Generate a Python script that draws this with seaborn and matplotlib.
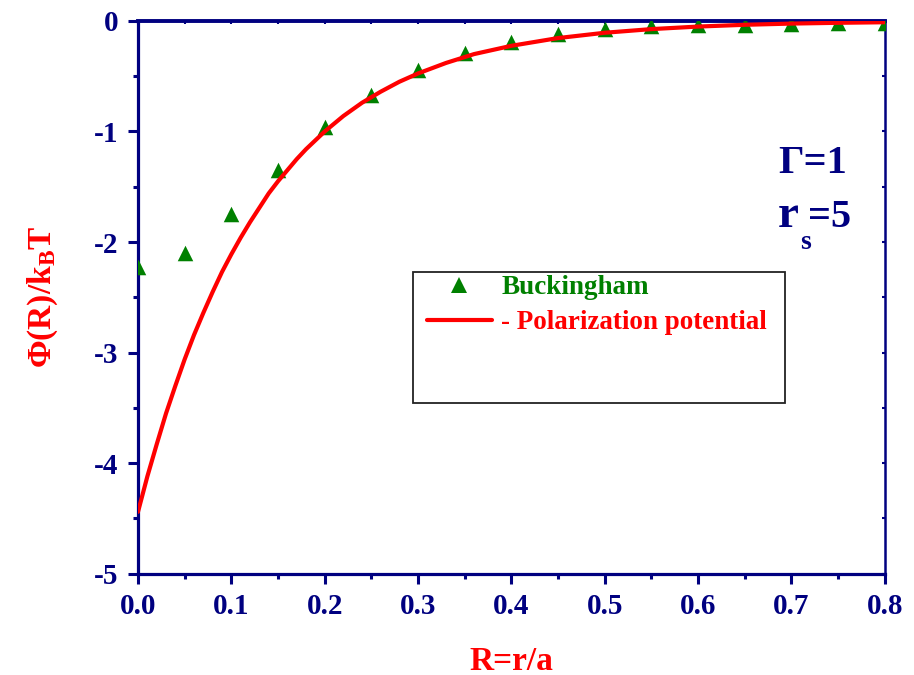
import matplotlib
matplotlib.use("Agg")
import matplotlib.pyplot as plt
import pandas as pd
import seaborn as sns
from matplotlib.ticker import MultipleLocator, NullFormatter
from matplotlib.lines import Line2D
from matplotlib.patches import Rectangle

# Buckingham potential, sampled every 0.05 in R
buck_R = [0.00, 0.05, 0.10, 0.15, 0.20, 0.25, 0.30, 0.35, 0.40,
          0.45, 0.50, 0.55, 0.60, 0.65, 0.70, 0.75, 0.80]
buck_phi = [-2.23, -2.10, -1.75, -1.35, -0.96, -0.67, -0.44, -0.29, -0.19,
            -0.12, -0.075, -0.05, -0.04, -0.035, -0.03, -0.02, -0.02]

# Polarization potential curve
pol_R = [0.00, 0.01, 0.02, 0.03, 0.04, 0.05, 0.06, 0.07, 0.08, 0.09, 0.10,
         0.11, 0.12, 0.13, 0.14, 0.15, 0.16, 0.17, 0.18, 0.19, 0.20,
         0.22, 0.24, 0.26, 0.28, 0.30,
         0.33, 0.36, 0.40, 0.45, 0.50, 0.55, 0.60, 0.65, 0.70, 0.75, 0.80]
pol_phi = [-4.44, -4.12, -3.83, -3.55, -3.30, -3.06, -2.84, -2.64, -2.45, -2.27, -2.11,
           -1.96, -1.82, -1.69, -1.56, -1.45, -1.35, -1.25, -1.16, -1.08, -1.00,
           -0.86, -0.74, -0.64, -0.55, -0.475,
           -0.38, -0.30, -0.225, -0.155, -0.107, -0.074, -0.051, -0.035, -0.024, -0.017, -0.012]

x_ticks = [0.0, 0.1, 0.2, 0.3, 0.4, 0.5, 0.6, 0.7, 0.8]
x_tick_labels = ["0.0", "0.1", "0.2", "0.3", "0.4", "0.5", "0.6", "0.7", "0.8"]
y_ticks = [-5, -4, -3, -2, -1, 0]
y_tick_labels = ["-5", "-4", "-3", "-2", "-1", "0"]

NAVY = "#000080"
GREEN = "#008000"
RED = "#FF0000"

sns.set_style("ticks")
plt.rcParams["font.family"] = ["Liberation Serif", "DejaVu Serif"]
plt.rcParams["font.weight"] = "bold"
plt.rcParams["mathtext.fontset"] = "custom"
plt.rcParams["mathtext.rm"] = "Liberation Serif:bold"
plt.rcParams["mathtext.bf"] = "Liberation Serif:bold"
plt.rcParams["mathtext.it"] = "Liberation Serif:bold"

buck = pd.DataFrame({"R": buck_R, "phi": buck_phi})
pol = pd.DataFrame({"R": pol_R, "phi": pol_phi})

fig = plt.figure(figsize=(9.14, 6.75), dpi=100)
ax = fig.add_axes([0.151, 0.150, 0.817, 0.819])

sns.scatterplot(data=buck, x="R", y="phi", marker="^", s=125, color=GREEN,
                edgecolor=GREEN, linewidth=0, ax=ax, zorder=3, legend=False)
sns.lineplot(data=pol, x="R", y="phi", color=RED, linewidth=3.0, ax=ax,
             zorder=4, legend=False, sort=True, solid_joinstyle="round")

ax.set_xlim(0.0, 0.8)
ax.set_ylim(-5, 0)

ax.set_xticks(x_ticks)
ax.set_xticklabels(x_tick_labels)
ax.set_yticks(y_ticks)
ax.set_yticklabels(y_tick_labels)
ax.xaxis.set_minor_locator(MultipleLocator(0.05))
ax.yaxis.set_minor_locator(MultipleLocator(0.5))

ax.spines["left"].set_linewidth(2.3)
ax.spines["bottom"].set_linewidth(2.3)
ax.spines["top"].set_linewidth(2.8)
ax.spines["right"].set_linewidth(1.8)
for side in ["left", "right", "top", "bottom"]:
    ax.spines[side].set_color(NAVY)
    ax.spines[side].set_visible(True)

ax.tick_params(axis="both", which="major", direction="out", length=7, width=2.2,
               color=NAVY, labelcolor=NAVY, labelsize=21, pad=7)
ax.tick_params(axis="both", which="minor", direction="out", length=3.5, width=2.2,
               color=NAVY)
for lab in ax.get_xticklabels() + ax.get_yticklabels():
    lab.set_fontweight("bold")

# small inward ticks on the top and right frame
top = ax.secondary_xaxis("top")
top.set_xticks(x_ticks)
top.xaxis.set_minor_locator(MultipleLocator(0.05))
top.xaxis.set_major_formatter(NullFormatter())
top.tick_params(which="both", direction="in", length=2, width=1.5, color=NAVY)
top.spines["top"].set_visible(False)
right = ax.secondary_yaxis("right")
right.set_yticks(y_ticks)
right.yaxis.set_minor_locator(MultipleLocator(0.5))
right.yaxis.set_major_formatter(NullFormatter())
right.tick_params(which="both", direction="in", length=2, width=1.5, color=NAVY)
right.spines["right"].set_visible(False)

ax.set_xlabel("R=r/a", color=RED, fontsize=24, fontweight="bold")
ax.set_ylabel(r"Φ(R)/k$_\mathregular{B}$T", color=RED, fontsize=24, fontweight="bold")
ax.xaxis.set_label_coords(0.50, -0.130)
ax.yaxis.set_label_coords(-0.105, 0.50)

ax.text(0.857, 0.725, "Γ=1", transform=ax.transAxes, color=NAVY,
        fontsize=29, fontweight="bold", ha="left", va="baseline")
ax.text(0.857, 0.6275, "r", transform=ax.transAxes, color=NAVY,
        fontsize=34, fontweight="bold", ha="left", va="baseline")
ax.text(0.887, 0.588, "s", transform=ax.transAxes, color=NAVY,
        fontsize=20, fontweight="bold", ha="left", va="baseline")
ax.text(0.897, 0.6275, "=5", transform=ax.transAxes, color=NAVY,
        fontsize=29, fontweight="bold", ha="left", va="baseline")

# legend box with its entries
fig.patches.append(Rectangle((0.452, 0.403), 0.407, 0.194, transform=fig.transFigure,
                             facecolor="white", edgecolor="#222222", linewidth=1.3,
                             zorder=5))
handles = [Line2D([], [], linestyle="none", marker="^", markersize=11,
                  color=GREEN, markeredgewidth=0),
           Line2D([], [], color=RED, linewidth=3.0)]
leg = fig.legend(handles, ["Buckingham", "- Polarization potential"],
                 loc="upper left", bbox_to_anchor=(0.458, 0.604),
                 frameon=False, prop={"family": "Liberation Serif", "weight": "bold",
                                      "size": 19.5},
                 handlelength=2.4, handletextpad=0.35, labelspacing=0.36,
                 borderaxespad=0, borderpad=0.3)
leg.set_zorder(6)
for txt, c in zip(leg.get_texts(), [GREEN, RED]):
    txt.set_color(c)

fig.savefig("out.png", dpi=100)
